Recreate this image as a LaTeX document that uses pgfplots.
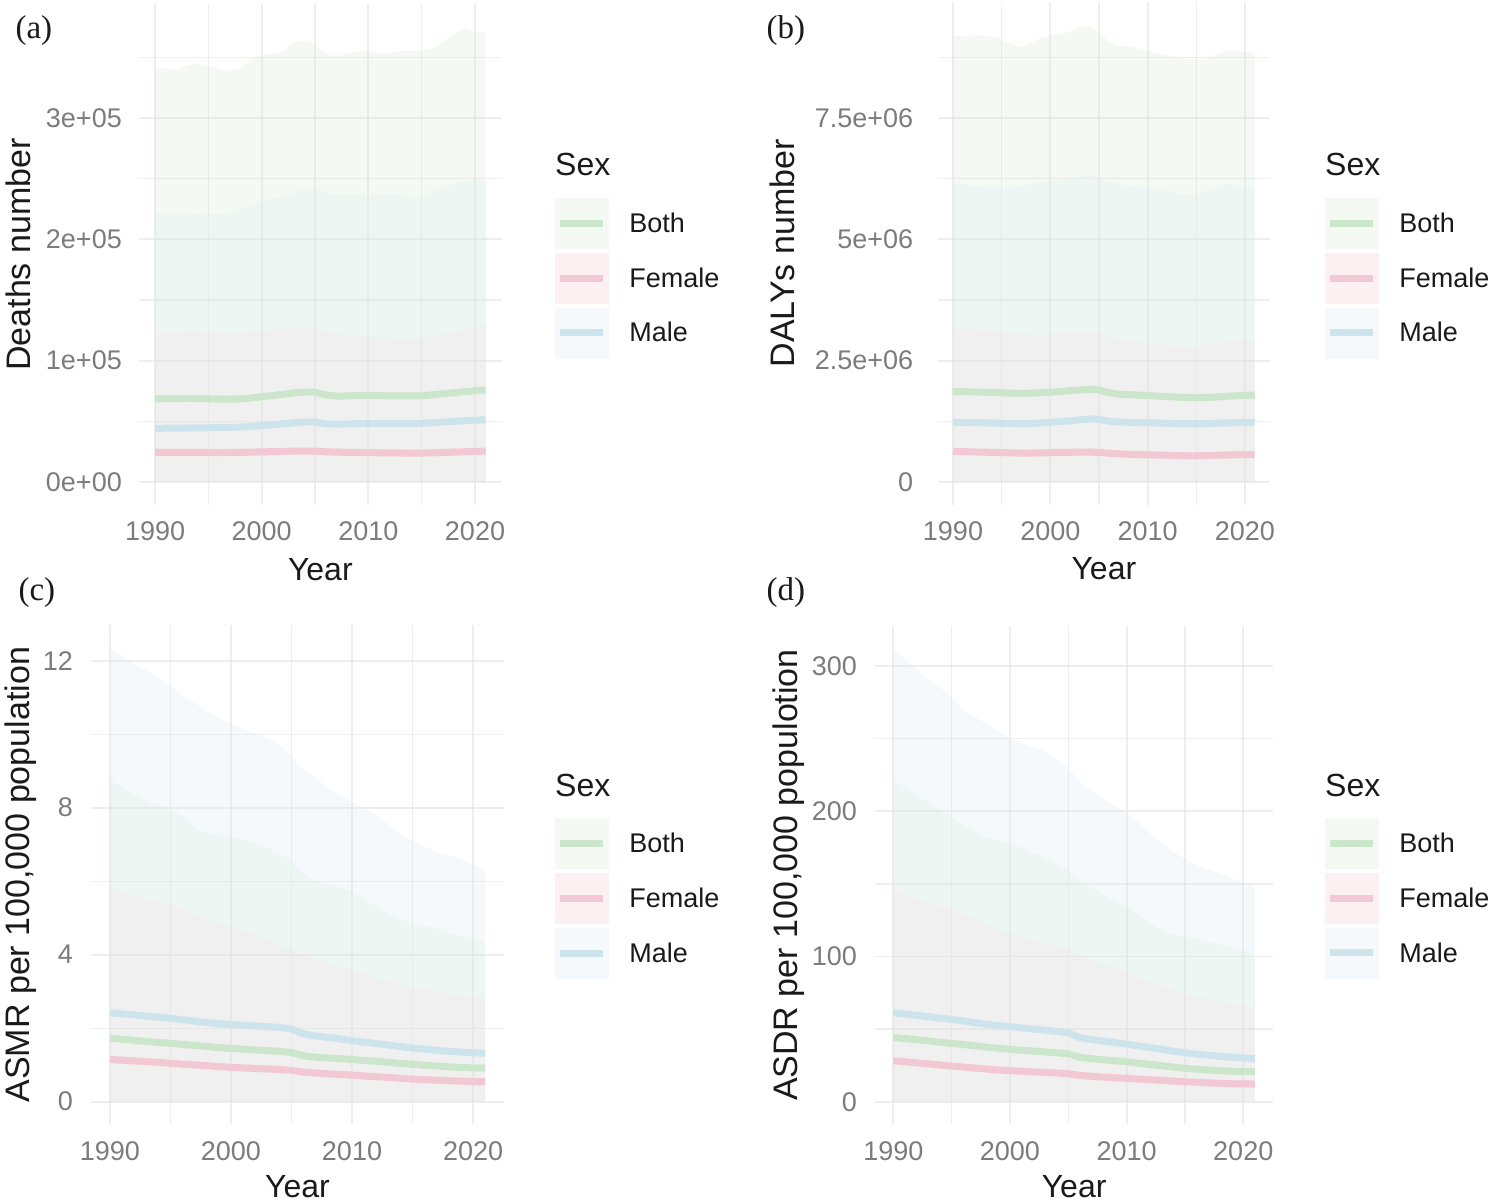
\documentclass[border=0pt]{standalone}
\usepackage{pgfplots}
\pgfplotsset{compat=1.18}
\usepackage{fontspec}
\setmainfont{Liberation Sans}
\newfontfamily\tagfont{Liberation Serif}

% line colours
\definecolor{bothline}{HTML}{CBE6CB}
\definecolor{femaleline}{HTML}{F3C8D5}
\definecolor{maleline}{HTML}{CDE4EC}
% uncertainty band colours (single band and overlaps)
\definecolor{bothfill}{HTML}{F4F9F3}
\definecolor{femalefill}{HTML}{FDF0F3}
\definecolor{malefill}{HTML}{F5F9FC}
\definecolor{twofill}{HTML}{EEF6F3}
\definecolor{allfill}{HTML}{F1F0F0}
\definecolor{gridc}{HTML}{E2E2E2}
\definecolor{tickc}{HTML}{7C7C7C}
\definecolor{txtc}{HTML}{1A1A1A}

\newcommand\ticksize{\fontsize{27bp}{31bp}\selectfont}
\newcommand\titlesize{\fontsize{32bp}{36bp}\selectfont}
\newcommand\ytitlesize{\fontsize{34bp}{38bp}\selectfont}
\newcommand\tagsize{\fontsize{33bp}{37bp}\selectfont}

% Deaths (number)
\pgfplotstableread{
year both female male bothU femaleU maleU
1990 68500 24500 44200 341000 122500 221500
1991 68700 24500 44300 341000 123000 222000
1992 68800 24400 44400 340000 123500 222000
1993 68900 24400 44500 343000 124000 222000
1994 68800 24400 44600 345000 124000 221000
1995 68600 24300 44700 343000 123500 221000
1996 68400 24300 44800 340000 123000 221000
1997 68300 24300 44900 338000 122500 222000
1998 68500 24400 45300 341000 123000 225000
1999 69200 24600 45900 349000 124000 228000
2000 70200 24800 46600 352000 125000 231000
2001 71200 25000 47200 353000 125500 233000
2002 72300 25200 47900 355000 126000 235000
2003 73400 25400 48700 362000 126500 238000
2004 74200 25500 49500 364000 126700 242000
2005 74000 25400 49300 361000 126000 241000
2006 71800 24900 48000 353000 124000 238000
2007 70800 24600 47600 351000 122000 237000
2008 70900 24400 47800 353000 121000 237000
2009 71300 24300 48000 355000 120000 237000
2010 71500 24200 48200 356000 119800 236500
2011 71200 24100 48300 353000 119500 237000
2012 71000 24000 48300 354000 119000 238000
2013 71000 23900 48300 355000 118700 237000
2014 70900 23800 48300 355000 118500 235000
2015 71000 23800 48400 355000 119000 236000
2016 71800 24000 48800 357000 120000 239000
2017 72800 24300 49400 362000 122000 242000
2018 73600 24600 49900 369000 124000 245000
2019 74400 24900 50500 374000 126000 248000
2020 75200 25200 50900 371000 128000 249000
2021 76000 25500 51300 370000 129400 248000
}\deaths

% DALYs (number)
\pgfplotstableread{
year both female male bothU femaleU maleU
1990 1860000 630000 1230000 9180000 3170000 6150000
1991 1860000 625000 1228000 9190000 3160000 6130000
1992 1855000 620000 1225000 9210000 3140000 6100000
1993 1850000 615000 1220000 9200000 3130000 6080000
1994 1845000 610000 1215000 9180000 3110000 6060000
1995 1840000 605000 1210000 9120000 3090000 6050000
1996 1830000 600000 1205000 9020000 3070000 6070000
1997 1827000 595000 1200000 8970000 3050000 6100000
1998 1830000 595000 1205000 9050000 3040000 6130000
1999 1840000 600000 1215000 9150000 3030000 6160000
2000 1850000 605000 1230000 9200000 3040000 6190000
2001 1865000 610000 1245000 9220000 3060000 6220000
2002 1880000 612000 1260000 9280000 3080000 6250000
2003 1895000 615000 1280000 9370000 3090000 6300000
2004 1910000 615000 1300000 9420000 3100000 6330000
2005 1900000 610000 1290000 9250000 3070000 6270000
2006 1840000 590000 1250000 9080000 3000000 6180000
2007 1810000 580000 1235000 8980000 2950000 6130000
2008 1800000 570000 1230000 8990000 2900000 6100000
2009 1790000 565000 1225000 8940000 2880000 6080000
2010 1780000 560000 1220000 8890000 2860000 6060000
2011 1770000 555000 1215000 8820000 2840000 6020000
2012 1760000 550000 1210000 8790000 2820000 5990000
2013 1750000 545000 1205000 8760000 2800000 5950000
2014 1740000 540000 1200000 8720000 2790000 5920000
2015 1737000 540000 1200000 8700000 2790000 5910000
2016 1740000 545000 1205000 8730000 2820000 5990000
2017 1750000 550000 1210000 8800000 2860000 6080000
2018 1765000 555000 1215000 8880000 2890000 6140000
2019 1775000 560000 1220000 8900000 2910000 6120000
2020 1785000 565000 1225000 8860000 2920000 6060000
2021 1790000 565000 1230000 8850000 2930000 6020000
}\dalys

% Age-standardised mortality rate per 100,000
\pgfplotstableread{
year both female male bothU femaleU maleU
1990 1.73 1.15 2.42 8.76 5.85 12.34
1991 1.70 1.13 2.39 8.55 5.72 12.14
1992 1.67 1.11 2.36 8.35 5.60 11.92
1993 1.64 1.09 2.33 8.18 5.50 11.72
1994 1.61 1.07 2.30 8.05 5.42 11.54
1995 1.59 1.045 2.27 7.94 5.35 11.32
1996 1.56 1.02 2.23 7.75 5.22 11.05
1997 1.53 1.00 2.19 7.45 5.08 10.85
1998 1.50 0.98 2.15 7.32 4.95 10.62
1999 1.47 0.955 2.12 7.25 4.85 10.45
2000 1.45 0.935 2.10 7.20 4.76 10.30
2001 1.43 0.92 2.08 7.12 4.66 10.15
2002 1.41 0.905 2.06 7.02 4.55 10.00
2003 1.39 0.89 2.04 6.92 4.42 9.90
2004 1.37 0.875 2.02 6.75 4.28 9.70
2005 1.34 0.855 1.98 6.55 4.13 9.42
2006 1.25 0.80 1.84 6.20 4.00 9.02
2007 1.21 0.78 1.79 6.00 3.88 8.80
2008 1.19 0.76 1.75 5.90 3.78 8.55
2009 1.17 0.74 1.71 5.82 3.68 8.35
2010 1.15 0.725 1.66 5.72 3.58 8.16
2011 1.12 0.70 1.62 5.50 3.48 8.00
2012 1.10 0.68 1.58 5.30 3.38 7.80
2013 1.07 0.66 1.54 5.12 3.28 7.55
2014 1.04 0.635 1.50 4.95 3.20 7.30
2015 1.02 0.615 1.46 4.85 3.13 7.10
2016 0.99 0.60 1.43 4.78 3.06 6.95
2017 0.97 0.585 1.40 4.70 2.99 6.80
2018 0.95 0.57 1.37 4.60 2.93 6.70
2019 0.93 0.56 1.35 4.52 2.88 6.60
2020 0.92 0.55 1.33 4.45 2.84 6.45
2021 0.91 0.545 1.32 4.35 2.81 6.30
}\asmr

% Age-standardised DALY rate per 100,000
\pgfplotstableread{
year both female male bothU femaleU maleU
1990 44.3 28.2 61.3 221.6 145.8 312
1991 43.5 27.5 60.4 216 143 305
1992 42.7 26.8 59.5 211 140 298
1993 41.9 26.1 58.6 206 137.5 291
1994 41.0 25.3 57.6 201 134.8 285
1995 40.2 24.6 56.7 196.3 132 279
1996 39.4 23.9 55.6 190 128.8 270
1997 38.5 23.2 54.5 186 125.5 265
1998 37.6 22.5 53.4 182 122.3 260
1999 36.8 21.9 52.5 180 119 255
2000 36.1 21.4 51.7 178 116 250
2001 35.5 21.0 50.9 175 113.5 247
2002 34.9 20.6 50.1 171 111.2 244
2003 34.3 20.2 49.3 168 109 241
2004 33.7 19.8 48.4 164 106.8 236
2005 33.0 19.3 47.3 160 104.5 230
2006 30.6 18.1 44.2 151 101 220
2007 29.7 17.5 42.8 147 98 214
2008 28.9 17.0 41.7 143 94.8 209
2009 28.2 16.5 40.7 138 91.6 204
2010 27.5 16.1 39.7 134 88.4 199
2011 26.6 15.6 38.5 129 85.5 192
2012 25.7 15.2 37.3 123 82.8 185
2013 24.8 14.7 36.1 118 80 178
2014 23.9 14.2 34.9 115 77.3 172
2015 23.0 13.8 33.7 113.6 74.7 167
2016 22.4 13.4 32.8 112 72.7 163
2017 21.9 13.0 32.0 110 70.8 160
2018 21.4 12.7 31.3 108 69 157
2019 21.0 12.4 30.6 106 67.3 154
2020 20.8 12.3 30.1 104 66.3 151
2021 20.6 12.2 29.8 102 65.4 148
}\asdr

\pgfplotsset{
  gbd/.style={
    scale only axis, set layers, clip=false,
    xmin=1988.45, xmax=2022.55,
    xtick={1990,2000,2010,2020}, xticklabels={1990,2000,2010,2020},
    minor xtick={1995,2005,2015},
    scaled x ticks=false, scaled y ticks=false,
    grid=both,
    major grid style={draw=gridc, line width=1.9bp, opacity=0.6},
    minor grid style={draw=gridc, line width=1.3bp, opacity=0.6},
    axis line style={draw=none},
    major tick length=0pt, minor tick length=0pt,
    tick style={draw=none},
    /pgf/number format/assume math mode=true,
    tick label style={font=\ticksize, color=tickc, inner sep=0pt},
    xticklabel style={anchor=north, yshift=-17bp},
    xlabel style={font=\titlesize, color=txtc},
    ylabel style={font=\ytitlesize, color=txtc},
    xlabel={Year},
    legend cell align=left,
    legend style={draw=none, fill=none, inner sep=0pt, outer sep=0pt,
      anchor=north west, font=\ticksize, text=txtc,
      row sep=4.5bp, column sep=19bp,
      cells={anchor=west}},
  },
  band/.style={draw=none, fill=#1, on layer=axis background, forget plot},
  trend/.style={draw=#1, line width=7bp, line join=round, forget plot},
}

\newcommand\sexlegend{%
  \addlegendimage{legend image code/.code={
    \fill[bothfill] (0bp,-25bp) rectangle (53bp,25bp);
    \draw[bothline, line width=7bp] (5bp,0bp) -- (48bp,0bp);}}
  \addlegendentry{Both}
  \addlegendimage{legend image code/.code={
    \fill[femalefill] (0bp,-25bp) rectangle (53bp,25bp);
    \draw[femaleline, line width=7bp] (5bp,0bp) -- (48bp,0bp);}}
  \addlegendentry{Female}
  \addlegendimage{legend image code/.code={
    \fill[malefill] (0bp,-25bp) rectangle (53bp,25bp);
    \draw[maleline, line width=7bp] (5bp,0bp) -- (48bp,0bp);}}
  \addlegendentry{Male}
}

\begin{document}
\begin{tikzpicture}

% (a) deaths
\begin{axis}[gbd, at={(138.5bp,698.25bp)}, anchor=south west,
  width=363.7bp, height=500.45bp,
  ymin=-18750, ymax=393700,
  ytick={0,100000,200000,300000}, yticklabels={0e+00,1e+05,2e+05,3e+05},
  minor ytick={50000,150000,250000,350000},
  yticklabel style={anchor=east, xshift=-16.5bp},
  ylabel={Deaths number},
  ylabel style={at={(axis description cs:-0.296,0.5)}, anchor=base},
  xlabel style={at={(axis description cs:0.5,-0.1504)}, anchor=base},
  legend style={at={(axis description cs:1.1452,0.6130)}}]
\sexlegend
\addplot[band=bothfill] table[x=year,y=bothU] {\deaths} \closedcycle;
\addplot[band=twofill] table[x=year,y=maleU] {\deaths} \closedcycle;
\addplot[band=allfill] table[x=year,y=femaleU] {\deaths} \closedcycle;
\addplot[trend=bothline] table[x=year,y=both] {\deaths};
\addplot[trend=femaleline] table[x=year,y=female] {\deaths};
\addplot[trend=maleline] table[x=year,y=male] {\deaths};
\end{axis}

% (b) DALYs
\begin{axis}[gbd, at={(937.9bp,698.1bp)}, anchor=south west,
  width=331.9bp, height=502.9bp,
  ymin=-472000, ymax=9891000,
  ytick={0,2500000,5000000,7500000}, yticklabels={0,2.5e+06,5e+06,7.5e+06},
  minor ytick={1250000,3750000,6250000,8750000},
  yticklabel style={anchor=east, xshift=-24.5bp},
  ylabel={DALYs number},
  ylabel style={at={(axis description cs:-0.4336,0.5)}, anchor=base},
  xlabel style={at={(axis description cs:0.5,-0.1493)}, anchor=base},
  legend style={at={(axis description cs:1.1663,0.6103)}}]
\sexlegend
\addplot[band=bothfill] table[x=year,y=bothU] {\dalys} \closedcycle;
\addplot[band=twofill] table[x=year,y=maleU] {\dalys} \closedcycle;
\addplot[band=allfill] table[x=year,y=femaleU] {\dalys} \closedcycle;
\addplot[trend=bothline] table[x=year,y=both] {\dalys};
\addplot[trend=femaleline] table[x=year,y=female] {\dalys};
\addplot[trend=maleline] table[x=year,y=male] {\dalys};
\end{axis}

% (c) ASMR
\begin{axis}[gbd, at={(91.2bp,78.6bp)}, anchor=south west,
  width=412.7bp, height=499.4bp,
  ymin=-0.618, ymax=12.97,
  ytick={0,4,8,12}, yticklabels={0,4,8,12},
  minor ytick={2,6,10},
  yticklabel style={anchor=east, xshift=-18bp},
  ylabel={ASMR per 100,000 population},
  ylabel style={at={(axis description cs:-0.1483,0.5)}, anchor=base},
  xlabel style={at={(axis description cs:0.5,-0.146)}, anchor=base},
  legend style={at={(axis description cs:1.1238,0.6135)}}]
\sexlegend
\addplot[band=malefill] table[x=year,y=maleU] {\asmr} \closedcycle;
\addplot[band=twofill] table[x=year,y=bothU] {\asmr} \closedcycle;
\addplot[band=allfill] table[x=year,y=femaleU] {\asmr} \closedcycle;
\addplot[trend=bothline] table[x=year,y=both] {\asmr};
\addplot[trend=femaleline] table[x=year,y=female] {\asmr};
\addplot[trend=maleline] table[x=year,y=male] {\asmr};
\end{axis}

% (d) ASDR
\begin{axis}[gbd, at={(875.2bp,78.6bp)}, anchor=south west,
  width=397.8bp, height=498.7bp,
  ymin=-15.6, ymax=327.8,
  ytick={0,100,200,300}, yticklabels={0,100,200,300},
  minor ytick={50,150,250},
  yticklabel style={anchor=east, xshift=-18bp},
  ylabel={ASDR per 100,000 populotion},
  ylabel style={at={(axis description cs:-0.1941,0.5)}, anchor=base},
  xlabel style={at={(axis description cs:0.5,-0.146)}, anchor=base},
  legend style={at={(axis description cs:1.1307,0.6144)}}]
\sexlegend
\addplot[band=malefill] table[x=year,y=maleU] {\asdr} \closedcycle;
\addplot[band=twofill] table[x=year,y=bothU] {\asdr} \closedcycle;
\addplot[band=allfill] table[x=year,y=femaleU] {\asdr} \closedcycle;
\addplot[trend=bothline] table[x=year,y=both] {\asdr};
\addplot[trend=femaleline] table[x=year,y=female] {\asdr};
\addplot[trend=maleline] table[x=year,y=male] {\asdr};
\end{axis}

% panel tags and legend titles
\node[anchor=base west, font=\tagsize\tagfont, text=txtc] at (12bp,1164.5bp) {(a)};
\node[anchor=base west, font=\tagsize\tagfont, text=txtc] at (763bp,1164.5bp) {(b)};
\node[anchor=base west, font=\tagsize\tagfont, text=txtc] at (15bp,602bp) {(c)};
\node[anchor=base west, font=\tagsize\tagfont, text=txtc] at (763bp,602bp) {(d)};
\node[anchor=base west, font=\titlesize, text=txtc, inner sep=0pt] at (555bp,1027bp) {Sex};
\node[anchor=base west, font=\titlesize, text=txtc, inner sep=0pt] at (1325bp,1027bp) {Sex};
\node[anchor=base west, font=\titlesize, text=txtc, inner sep=0pt] at (555bp,406bp) {Sex};
\node[anchor=base west, font=\titlesize, text=txtc, inner sep=0pt] at (1325bp,406bp) {Sex};

% page size
\pgfresetboundingbox
\path[use as bounding box] (0bp,0bp) rectangle (1489bp,1203bp);
\end{tikzpicture}
\end{document}
